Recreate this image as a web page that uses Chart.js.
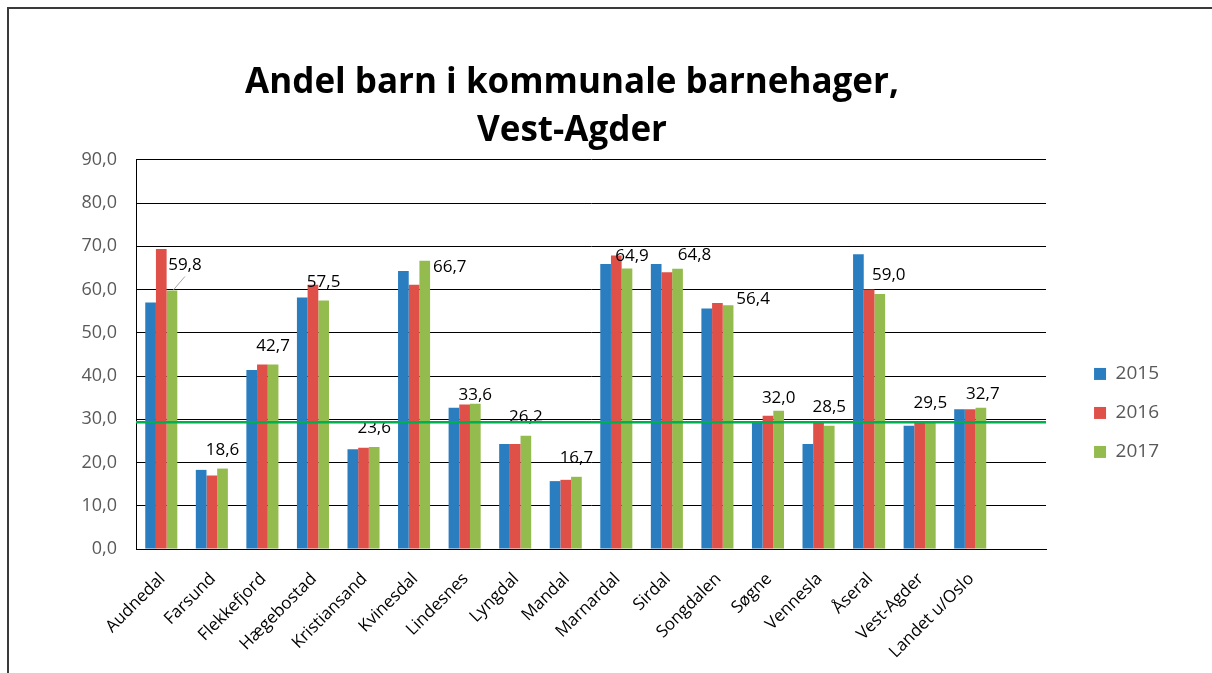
<!DOCTYPE html>
<html>
<head>
<meta charset="utf-8">
<script src="https://cdn.jsdelivr.net/npm/chart.js@4"></script>
<style>
  html, body { margin: 0; padding: 0; background: #fff; overflow: hidden; }
  #wrap { position: relative; width: 1212px; height: 673px; }
  #wrap canvas { position: absolute; left: 0; top: 0; }
  #frame { position: absolute; left: 7px; top: 7px; width: 1300px; height: 800px;
           border-top: 2px solid #3a3a3a; border-left: 2px solid #3a3a3a; pointer-events: none; }
</style>
</head>
<body>
<div id="wrap">
  <canvas id="chart" width="1212" height="673"></canvas>
  <div id="frame"></div>
</div>
<script>
// kategorier (siste er en tom kategori, slik som i originalen)
const kommuner = ['Audnedal', 'Farsund', 'Flekkefjord', 'Hægebostad', 'Kristiansand', 'Kvinesdal',
  'Lindesnes', 'Lyngdal', 'Mandal', 'Marnardal', 'Sirdal', 'Songdalen', 'Søgne', 'Vennesla',
  'Åseral', 'Vest-Agder', 'Landet u/Oslo', ''];
const years = ['2015', '2016', '2017'];
const andel2015 = [57.0, 18.3, 41.4, 58.2, 23.1, 64.3, 32.7, 24.3, 15.7, 65.9, 65.9, 55.6, 29.2, 24.3, 68.2, 28.5, 32.3, null];
const andel2016 = [69.4, 17.0, 42.7, 61.1, 23.4, 61.1, 33.4, 24.3, 16.0, 67.9, 64.0, 56.9, 30.8, 29.2, 60.0, 29.3, 32.3, null];
const andel2017 = [59.8, 18.6, 42.7, 57.5, 23.6, 66.7, 33.6, 26.2, 16.7, 64.9, 64.8, 56.4, 32.0, 28.5, 59.0, 29.5, 32.7, null];
const referanse = 29.3; // grønn linje (Vest-Agder)
const yMax = 90;
const yStep = 10;

const colors = ['#2A7EC0', '#DF5049', '#93BB4D'];
const fmt = v => v.toFixed(1).replace('.', ',');
const FONT = 'Open Sans';

// etikett-forskyvning for 2017-verdiene (som i originalen)
const labelShift = {
  0: { dx: 13, dy: -25, leader: true },
  5: { dx: 25, dy: 7 },
  6: { dx: 0, dy: -9 },
  9: { dx: 5, dy: -12 },
  10: { dx: 17, dy: -14 },
  11: { dx: 25, dy: -6 },
  12: { dx: 0, dy: -12 },
  14: { dx: 9, dy: -19 },
  16: { dx: 2, dy: -13 }
};

const extras = {
  id: 'extras',
  afterLayout(chart) {
    // legenden står til høyre for plottet, midtstilt mot plottområdet
    const lg = chart.legend;
    lg.left = chart.chartArea.right + 28;
    lg.right = lg.left + lg.width;
    lg.top = chart.chartArea.top;
    lg.height = lg.bottom - lg.top;
  },
  afterDatasetsDraw(chart) {
    const ctx = chart.ctx;
    const meta = chart.getDatasetMeta(2);
    ctx.save();
    ctx.font = '17px "' + FONT + '"';
    ctx.fillStyle = '#000';
    ctx.textAlign = 'center';
    ctx.textBaseline = 'middle';
    meta.data.forEach((bar, i) => {
      const v = andel2017[i];
      if (v == null) return;
      const s = labelShift[i] || {};
      const x = bar.x + (s.dx ?? 0);
      const y = bar.y + (s.dy ?? -18.5);
      if (s.leader) {
        ctx.strokeStyle = '#a6a6a6';
        ctx.lineWidth = 1;
        ctx.beginPath();
        ctx.moveTo(bar.x + 1, bar.y);
        ctx.lineTo(x, y + 11);
        ctx.stroke();
      }
      ctx.fillText(fmt(v), x, y);
    });
    const yr = chart.scales.y.getPixelForValue(referanse);
    ctx.strokeStyle = '#00B050';
    ctx.lineWidth = 2.5;
    ctx.beginPath();
    ctx.moveTo(chart.chartArea.left, yr);
    ctx.lineTo(chart.chartArea.right, yr);
    ctx.stroke();
    ctx.restore();
  }
};

const ctx = document.getElementById('chart');
new Chart(ctx, {
  type: 'bar',
  data: {
    labels: kommuner,
    datasets: [andel2015, andel2016, andel2017].map((d, i) => ({
      label: years[i],
      data: d,
      backgroundColor: colors[i],
      borderWidth: 0,
      categoryPercentage: 0.634,
      barPercentage: 1
    }))
  },
  plugins: [extras],
  options: {
    responsive: false,
    animation: false,
    layout: { padding: { left: 3, right: 71, top: 0, bottom: 7 } },
    plugins: {
      tooltip: { enabled: false },
      title: {
        display: true,
        text: ['Andel barn i kommunale barnehager,', 'Vest-Agder'],
        color: '#000',
        font: { family: FONT, size: 35, weight: 'bold', lineHeight: 1.37 },
        padding: { top: 59, bottom: 5 }
      },
      legend: {
        position: 'right',
        align: 'center',
        labels: {
          boxWidth: 12,
          boxHeight: 12,
          padding: 20,
          color: '#595959',
          font: { family: FONT, size: 19 }
        }
      }
    },
    scales: {
      x: {
        grid: { display: false },
        border: { display: true, color: '#000', width: 1 },
        afterFit(scale) { scale.height = 117; },
        ticks: {
          autoSkip: false,
          maxRotation: 45,
          minRotation: 45,
          padding: 12,
          labelOffset: 1,
          color: '#000',
          font: { family: FONT, size: 17 }
        }
      },
      y: {
        min: 0,
        max: yMax,
        afterFit(scale) { scale.width = 133; },
        grid: { color: '#000', lineWidth: 1, drawTicks: false },
        border: { display: true, color: '#000', width: 1 },
        ticks: {
          stepSize: yStep,
          padding: 19,
          color: '#595959',
          font: { family: FONT, size: 18 },
          callback: v => fmt(v)
        }
      }
    }
  }
});
</script>
</body>
</html>
